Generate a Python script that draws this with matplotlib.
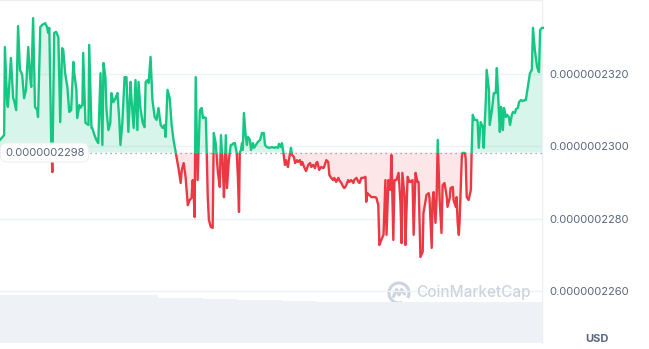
import matplotlib
matplotlib.use("Agg")
import matplotlib.pyplot as plt
import numpy as np
from matplotlib.patches import Rectangle, Arc

# ---------------- data ----------------
# time in minutes from start of the 24h window
t_min = [0, 11, 13, 19, 21, 29, 35, 37, 43, 48, 53, 56, 59, 64, 69, 75, 80, 83, 88, 93,
         99, 101, 107, 112, 120, 125, 128, 131, 136, 139, 144, 149, 155, 160, 165, 168, 173, 179, 184, 189,
         195, 197, 203, 205, 211, 213, 219, 221, 227, 235, 237,
         243, 245, 251, 256, 261, 267, 272, 275, 280, 283, 288, 293, 296, 301, 307, 312, 317, 320, 325,
         331, 336, 341, 347, 349, 355, 360, 365, 368, 373, 379, 384, 387, 392, 395, 400, 405, 411, 416, 421,
         427, 432, 437, 440, 445, 451, 456, 461,
         469, 475, 480, 483, 488, 493, 499, 504, 509, 512, 515, 517, 520, 523, 525, 531, 536, 539, 541, 547,
         549, 552, 555, 560, 565, 568, 573, 579, 584, 587, 592, 595, 600, 603, 608, 613, 616, 621, 624, 629,
         632, 635, 637, 640, 643, 645, 648, 653, 656, 659, 664, 667, 672, 675, 680, 685,
         691, 696, 701, 704, 709, 715, 723, 728, 733, 739, 741, 747, 749, 752, 757, 760, 765, 768, 773, 776,
         781, 784, 789, 792, 797, 800, 803, 808, 813, 819, 824, 827, 832, 837, 840, 843, 848, 853, 859, 861,
         867, 872, 875, 880, 885, 888, 893, 899, 901, 907, 912, 915, 920, 925, 928, 933, 939, 941, 947, 952,
         955, 960, 965,
         971, 973, 976, 981, 987, 992, 997, 1000, 1005, 1008, 1013, 1019, 1024, 1027, 1032, 1037, 1040, 1045, 1048, 1053,
         1059, 1064, 1067, 1069, 1075, 1077, 1083, 1088, 1091, 1096, 1099, 1104, 1109, 1112, 1117, 1123, 1125, 1131, 1133, 1139,
         1141, 1147, 1149, 1152, 1157, 1160, 1163, 1168,
         1173, 1176, 1181, 1187, 1189, 1195, 1197, 1203, 1205, 1211, 1213, 1216, 1219, 1221, 1227, 1229, 1235, 1237, 1240, 1245,
         1251, 1253, 1256, 1261, 1267, 1269, 1272, 1277, 1283, 1285, 1291, 1293, 1299, 1301, 1307, 1312, 1317, 1320, 1323, 1328,
         1331, 1333, 1336, 1339, 1344, 1347, 1352, 1355, 1360, 1363, 1368, 1371, 1376, 1379, 1384, 1389, 1395, 1397, 1403, 1408,
         1413, 1416, 1421, 1427, 1432, 1435, 1440, 1445]

# price in units of 1e-10 USD (2300 -> 0.0000002300)
price = [2301.7, 2303.0, 2327.3, 2311.9, 2310.8, 2324.3, 2313.2, 2312.7, 2309.9, 2333.1,
         2321.0, 2320.4, 2319.6, 2313.2, 2315.5, 2327.3, 2319.0, 2316.3, 2335.3, 2310.8,
         2309.9, 2308.0, 2332.8, 2333.4, 2333.9, 2332.8, 2331.2, 2332.6, 2301.7, 2292.8,
         2331.2, 2331.5, 2330.1, 2306.6, 2327.0, 2326.5, 2320.1, 2316.3, 2309.4, 2309.9,
         2323.2, 2320.4, 2315.5, 2307.7, 2311.3, 2310.5, 2311.3, 2325.7, 2306.4, 2305.8, 2327.9,
         2305.0, 2305.0, 2303.0, 2301.7, 2300.8, 2320.1, 2300.3, 2322.9, 2319.0, 2309.9,
         2304.4, 2306.4, 2314.6, 2312.1, 2313.2, 2314.6, 2307.2, 2300.3, 2306.4, 2319.0,
         2319.0, 2303.9, 2317.7, 2313.5, 2305.0, 2318.2, 2304.4, 2317.7, 2310.5, 2306.4,
         2305.2, 2317.7, 2318.2, 2317.4, 2324.6, 2312.7, 2308.0, 2307.2, 2310.5, 2305.8,
         2305.0, 2305.8, 2302.5, 2315.5, 2313.2, 2305.8, 2301.7,
         2297.0, 2293.4, 2289.8, 2293.4, 2295.3, 2291.5, 2283.7, 2285.1, 2285.7, 2290.6,
         2285.9, 2280.4, 2319.0, 2302.5, 2290.6, 2309.9, 2310.5, 2307.7, 2308.0, 2307.7,
         2298.9, 2285.9, 2279.6, 2277.7, 2277.4, 2303.6, 2300.8, 2292.6, 2288.7, 2303.0,
         2294.2, 2285.9, 2303.0, 2288.4, 2296.1, 2300.3, 2300.3, 2300.8, 2300.8, 2298.1,
         2291.5, 2281.8, 2298.1, 2298.9, 2300.8, 2298.9, 2309.1, 2302.5, 2300.3, 2302.5,
         2301.7, 2298.9, 2300.8, 2299.5, 2300.3, 2301.1,
         2301.7, 2303.6, 2303.6, 2300.3, 2299.7, 2299.5, 2299.7, 2299.5, 2299.7, 2299.5,
         2300.6, 2299.7, 2300.8, 2298.9, 2294.8, 2296.1, 2294.2, 2296.4, 2299.5, 2297.5,
         2297.0, 2295.3, 2296.1, 2295.6, 2296.1, 2294.8, 2295.6, 2294.2, 2293.1, 2294.8,
         2295.3, 2294.2, 2294.8, 2293.9, 2295.3, 2295.6, 2293.4, 2294.2, 2293.9, 2294.2,
         2296.1, 2295.6, 2292.0, 2291.2, 2290.6, 2291.2, 2290.1, 2291.2, 2290.6, 2289.8,
         2288.7, 2288.4, 2289.2, 2290.6, 2290.1, 2290.6, 2289.8, 2290.6, 2291.2, 2290.1,
         2289.8, 2291.2, 2291.2,
         2291.5, 2284.6, 2287.0, 2286.5, 2285.9, 2285.9, 2285.9, 2285.7, 2283.7, 2272.7,
         2274.1, 2275.5, 2290.6, 2275.5, 2290.6, 2287.9, 2297.5, 2274.1, 2290.6, 2290.6,
         2292.6, 2284.3, 2273.2, 2292.6, 2285.9, 2272.7, 2291.5, 2290.1, 2290.1, 2290.6,
         2275.5, 2292.6, 2290.1, 2290.1, 2269.4, 2270.8, 2281.5, 2285.1, 2286.5, 2287.0,
         2285.7, 2271.9, 2284.6, 2287.3, 2278.8, 2285.7, 2301.7, 2285.1,
         2276.0, 2289.2, 2289.8, 2285.9, 2283.2, 2285.7, 2288.4, 2288.7, 2285.1, 2283.2,
         2285.9, 2278.8, 2275.5, 2279.0, 2297.0, 2298.1, 2298.1, 2296.7, 2285.9, 2285.1,
         2287.9, 2298.1, 2308.6, 2307.2, 2307.2, 2306.6, 2299.5, 2306.6, 2305.2, 2299.5,
         2313.2, 2321.0, 2315.5, 2305.8, 2309.9, 2314.6, 2314.6, 2321.5, 2314.9, 2303.9,
         2310.8, 2309.4, 2304.4, 2310.5, 2308.0, 2308.6, 2308.0, 2305.8, 2308.6, 2309.4,
         2309.1, 2310.2, 2310.5, 2312.1, 2312.7, 2312.4, 2312.7, 2312.7, 2316.8, 2320.1,
         2321.0, 2332.6, 2326.5, 2321.8, 2320.4, 2332.0, 2332.6, 2332.6]

baseline = 2298.2
baseline_label = "0.0000002298"
y_ticks = [2260, 2280, 2300, 2320]

# 30-minute volume bars (arbitrary units)
vol = [4.80, 4.80, 4.80, 4.80, 4.80, 4.80, 4.80, 4.80, 4.80, 4.80, 4.80, 4.80, 4.80, 4.80,
       4.50, 4.50, 4.50, 4.50, 4.42, 4.42, 4.42, 4.30, 4.30, 4.30, 4.30, 4.20, 4.20, 4.20,
       4.12, 4.12, 4.12, 4.12, 4.12, 4.12, 4.08, 4.08, 4.08, 4.08, 4.08, 4.08, 4.08, 4.08,
       4.08, 4.08, 4.08, 4.08, 4.08, 4.08]

GREEN = "#16c784"
RED = "#ea3943"
GRAY = "#58667e"

t = np.array(t_min, dtype=float)
p = np.array(price)

fig = plt.figure(figsize=(6.49, 3.49), dpi=100)
fig.patch.set_facecolor("white")
ax = fig.add_axes([0, 6 / 349, 542 / 649, 343 / 349])
ax2 = ax.twinx()
ax.set_zorder(2)
ax2.set_zorder(1)
ax.patch.set_visible(False)

x_end = 1445
ax.set_xlim(0, x_end)
ax.set_ylim(2245.66, 2340.28)

# volume
vt = 15 + 30 * np.arange(len(vol))
ax2.bar(vt, vol, width=30, color="#eef1f5", linewidth=0)
ax2.set_ylim(0, 4.80 * 343 / 48)
ax2.set_xlim(0, 30 * len(vol))
ax2.axis("off")

# grid
ax.set_yticks(y_ticks)
ax.yaxis.set_major_formatter(plt.FuncFormatter(lambda v, _: f"{v * 1e-10:.10f}"))
ax.yaxis.tick_right()
ax.tick_params(axis="y", length=0, pad=5, labelsize=8, labelcolor=GRAY)
for lab in ax.get_yticklabels():
    lab.set_fontfamily("Inter")
ax.set_xticks([])
ax.grid(axis="y", color="#eff2f5", lw=1)
for s in ["left", "bottom"]:
    ax.spines[s].set_visible(False)
for s in ["top", "right"]:
    ax.spines[s].set_color("#eceff3")
    ax.spines[s].set_linewidth(1)

# fills
ax.fill_between(t, p, baseline, where=p >= baseline, interpolate=True,
                color=GREEN, alpha=0.17, linewidth=0, zorder=2)
ax.fill_between(t, p, baseline, where=p <= baseline, interpolate=True,
                color=RED, alpha=0.12, linewidth=0, zorder=2)

# lines split at baseline
lg, = ax.plot(t, p, color=GREEN, lw=1.7, zorder=3, solid_joinstyle="round")
lr, = ax.plot(t, p, color=RED, lw=1.7, zorder=3, solid_joinstyle="round")
lg.set_clip_path(Rectangle((0, baseline), x_end, 200, transform=ax.transData))
lr.set_clip_path(Rectangle((0, baseline - 200), x_end, 200, transform=ax.transData))

ax.axhline(baseline, color="#8a93a6", lw=0.9, ls=(0, (1, 3)), zorder=4)
ax.text(13, baseline, baseline_label, ha="left", va="center", fontsize=8,
        color=GRAY, family="Inter", zorder=6,
        bbox=dict(boxstyle="round,pad=0.4,rounding_size=0.6", fc="white",
                  ec="#eef0f3", lw=0.8))

# USD label
fig.text(597 / 649, 1 - 339 / 349, "USD", ha="center", va="center", fontsize=8,
         weight="bold", color=GRAY, family="Inter")

# watermark
fig.text(416 / 649, 1 - 293 / 349, "CoinMarketCap", ha="left", va="center",
         fontsize=11, color="#cdd4e0", family="Inter", weight="medium", zorder=10)
wm = fig.add_axes([387 / 649, 1 - 305 / 349, 24 / 649, 24 / 349])
wm.set_xlim(-1.2, 1.2)
wm.set_ylim(-1.2, 1.2)
wm.set_aspect("equal")
wm.axis("off")
wm.add_patch(Arc((0, 0), 2, 2, theta1=-30, theta2=290, color="#cdd4e0", lw=2.2))
wm.plot([-0.55, -0.25, 0.0, 0.25, 0.55], [-0.35, 0.35, -0.2, 0.35, -0.1],
        color="#cdd4e0", lw=2.2, solid_joinstyle="round", solid_capstyle="round")

fig.savefig("out.png", dpi=100)
